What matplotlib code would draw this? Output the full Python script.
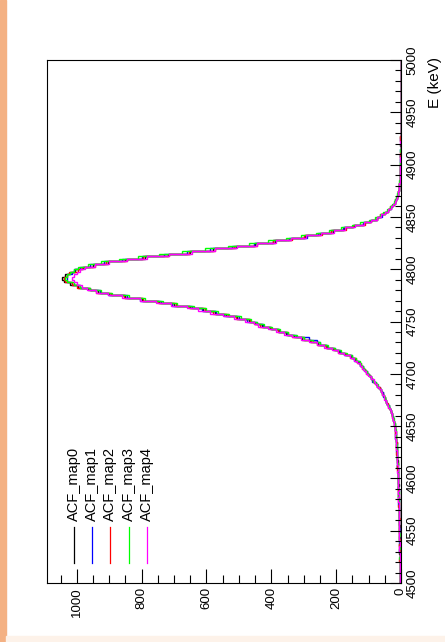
import numpy as np
import matplotlib
matplotlib.use('Agg')
import matplotlib.pyplot as plt
from matplotlib.ticker import MultipleLocator
from matplotlib.patches import Rectangle
from matplotlib.lines import Line2D

plt.rcParams['font.family'] = ['Liberation Sans', 'DejaVu Sans']

# 2.5 keV bins from 4500 to 5000 keV (200 bins)
energy_edges = np.linspace(4500, 5000, 201)

acf_map0 = [2, 3, 2, 2, 3, 4, 3, 3, 4, 3, 4, 5, 3, 4, 5, 4, 5, 4, 4, 5,
            5, 4, 6, 5, 5, 6, 7, 5, 6, 7, 7, 6, 8, 7, 7, 8, 8, 7, 9, 8,
            9, 8, 9, 10, 11, 10, 10, 12, 11, 12, 13, 12, 14, 13, 15, 16, 17, 16, 18, 19,
            20, 22, 24, 26, 28, 31, 34, 38, 42, 46, 50, 53, 57, 62, 67, 73, 80, 86, 93, 100,
            106, 112, 118, 125, 132, 142, 155, 172, 190, 210, 230, 255, 280, 305, 330, 355, 380, 405, 430, 450,
            470, 505, 540, 575, 610, 650, 700, 745, 800, 850, 900, 935, 965, 995, 1020, 1040, 1045, 1035, 1020, 1005,
            980, 950, 905, 850, 790, 720, 650, 580, 510, 450, 390, 340, 295, 250, 210, 175, 145, 115, 92, 75,
            62, 50, 40, 32, 25, 20, 16, 12, 10, 8, 7, 6, 5, 4, 4, 3, 3, 2, 2, 2,
            2, 1, 2, 2, 1, 1, 1, 2, 1, 1, 2, 1, 1, 0, 1, 1, 0, 1, 1, 1,
            1, 0, 1, 1, 0, 1, 1, 0, 1, 0, 0, 1, 0, 1, 1, 0, 1, 0, 0, 1]

acf_map1 = [3, 2, 2, 3, 4, 3, 3, 4, 2, 4, 4, 3, 5, 4, 4, 5, 3, 5, 5, 4,
            4, 6, 5, 5, 7, 6, 5, 7, 6, 6, 8, 7, 6, 8, 9, 7, 8, 9, 8, 10,
            8, 10, 9, 9, 12, 11, 11, 13, 12, 11, 14, 13, 13, 15, 14, 17, 16, 18, 19, 18,
            22, 21, 25, 25, 29, 30, 35, 37, 43, 45, 49, 54, 56, 63, 66, 74, 78, 88, 92, 98,
            104, 114, 116, 128, 130, 145, 152, 175, 188, 205, 228, 250, 260, 285, 325, 352, 375, 400, 425, 445,
            475, 500, 545, 570, 615, 645, 705, 740, 805, 845, 905, 930, 960, 990, 1015, 1030, 1030, 1030, 1015, 1010,
            990, 960, 915, 860, 800, 730, 660, 590, 520, 455, 395, 345, 290, 255, 215, 178, 148, 118, 95, 73,
            60, 50, 41, 32, 25, 20, 17, 12, 10, 8, 7, 6, 5, 4, 4, 3, 3, 2, 2, 2,
            1, 2, 1, 2, 1, 2, 1, 1, 1, 2, 0, 1, 1, 1, 0, 1, 1, 1, 0, 1,
            0, 1, 1, 0, 1, 1, 0, 1, 0, 1, 1, 0, 1, 0, 1, 1, 0, 0, 1, 0]

acf_map2 = [2, 2, 3, 4, 2, 3, 3, 4, 5, 3, 3, 4, 4, 5, 6, 3, 4, 5, 5, 6,
            6, 5, 5, 6, 4, 7, 6, 6, 7, 8, 6, 8, 7, 8, 9, 8, 8, 9, 10, 9,
            10, 9, 9, 11, 11, 10, 12, 13, 12, 14, 13, 15, 14, 13, 14, 16, 15, 19, 19, 20,
            21, 23, 24, 27, 28, 32, 33, 39, 41, 47, 50, 52, 58, 61, 66, 74, 79, 86, 94, 99,
            108, 110, 120, 124, 135, 140, 157, 170, 193, 208, 232, 258, 278, 300, 335, 350, 380, 400, 435, 455,
            465, 510, 535, 580, 605, 655, 695, 750, 795, 855, 895, 940, 960, 1000, 1015, 1035, 1040, 1030, 1025, 995,
            985, 945, 910, 845, 795, 715, 655, 575, 515, 445, 395, 335, 300, 245, 215, 170, 148, 112, 94, 74,
            64, 48, 40, 33, 26, 19, 17, 12, 10, 9, 7, 5, 6, 4, 4, 3, 2, 3, 2, 2,
            1, 1, 1, 2, 2, 1, 0, 1, 1, 2, 2, 1, 1, 1, 0, 1, 1, 0, 1, 1,
            1, 1, 0, 1, 0, 1, 1, 0, 1, 1, 0, 1, 1, 0, 1, 0, 1, 1, 0, 1]

acf_map3 = [3, 3, 2, 3, 2, 4, 4, 3, 3, 5, 4, 4, 5, 3, 3, 4, 5, 5, 4, 5,
            5, 5, 6, 5, 6, 6, 7, 7, 6, 7, 6, 7, 7, 8, 7, 7, 9, 9, 8, 8,
            9, 9, 10, 10, 9, 10, 11, 11, 12, 13, 12, 11, 13, 14, 15, 15, 16, 15, 16, 17,
            19, 21, 23, 26, 27, 30, 33, 37, 43, 45, 48, 53, 58, 61, 68, 72, 77, 85, 92, 100,
            105, 110, 117, 122, 128, 140, 150, 168, 185, 205, 225, 250, 272, 298, 322, 348, 372, 398, 422, 445,
            462, 495, 530, 565, 600, 640, 690, 735, 790, 840, 890, 925, 960, 990, 1010, 1030, 1035, 1030, 1020, 1010,
            995, 965, 925, 870, 810, 745, 675, 605, 535, 470, 410, 355, 310, 262, 222, 185, 152, 125, 100, 80,
            66, 54, 43, 35, 27, 22, 17, 14, 11, 9, 7, 7, 6, 5, 4, 4, 3, 3, 2, 2,
            2, 2, 1, 1, 1, 2, 1, 1, 1, 1, 0, 0, 1, 1, 1, 1, 0, 1, 1, 1,
            0, 0, 1, 1, 0, 1, 1, 0, 1, 1, 1, 1, 0, 0, 1, 0, 1, 1, 0, 1]

acf_map4 = [2, 2, 3, 3, 3, 2, 4, 4, 4, 4, 3, 3, 5, 5, 4, 4, 5, 6, 6, 5,
            5, 6, 6, 5, 5, 7, 7, 6, 7, 6, 6, 8, 8, 7, 8, 7, 8, 10, 9, 10,
            9, 10, 11, 10, 10, 12, 13, 11, 12, 13, 12, 14, 14, 14, 16, 17, 17, 16, 18, 18,
            21, 22, 25, 27, 29, 32, 35, 39, 43, 46, 51, 53, 58, 63, 68, 74, 79, 84, 93, 101,
            108, 114, 121, 128, 135, 146, 158, 176, 195, 212, 236, 260, 285, 310, 335, 360, 385, 410, 440, 455,
            480, 515, 550, 590, 625, 660, 710, 755, 805, 860, 905, 940, 970, 985, 1000, 1010, 1015, 1010, 1000, 990,
            975, 945, 900, 845, 785, 715, 645, 575, 505, 445, 385, 338, 292, 248, 208, 172, 142, 115, 92, 74,
            61, 50, 41, 32, 25, 20, 16, 12, 10, 8, 7, 6, 5, 4, 3, 3, 3, 2, 2, 2,
            1, 2, 2, 1, 1, 1, 1, 1, 2, 1, 1, 1, 0, 1, 1, 0, 1, 1, 1, 1,
            1, 1, 0, 1, 0, 1, 1, 0, 1, 0, 1, 1, 0, 1, 0, 1, 0, 0, 1, 1]

names = ['ACF_map0', 'ACF_map1', 'ACF_map2', 'ACF_map3', 'ACF_map4']
series = [acf_map0, acf_map1, acf_map2, acf_map3, acf_map4]
colors = ['#000000', '#0000ff', '#ff0000', '#00ff00', '#ff00ff']

W, H = 445, 642


def fx(px):
    return px / W


def fy(py):
    return 1 - py / H


fig = plt.figure(figsize=(W / 100, H / 100), dpi=100)
fig.patches.append(Rectangle((0, 0), fx(6), 1, transform=fig.transFigure,
                             color='#f4b183', zorder=0))
fig.patches.append(Rectangle((fx(6), 0), 1, 6 / H, transform=fig.transFigure,
                             color='#fdf2e9', zorder=0))

# canvas is turned on its side: energy runs up the right edge, counts run right-to-left
ax = fig.add_axes([fx(47), fy(583), fx(354), 523 / H])
for vals, c in zip(series, colors):
    ax.stairs(vals, energy_edges, orientation='horizontal', color=c, lw=1.0)

ax.set_xlim(1092, 0)
ax.set_ylim(4500, 5000)
ax.yaxis.tick_right()
ax.xaxis.set_major_locator(MultipleLocator(200))
ax.xaxis.set_minor_locator(MultipleLocator(50))
ax.yaxis.set_major_locator(MultipleLocator(50))
ax.yaxis.set_minor_locator(MultipleLocator(10))
ax.tick_params(axis='x', which='major', direction='in', length=10, width=0.8,
               labelrotation=90, labelsize=9.5, pad=3)
ax.tick_params(axis='x', which='minor', direction='in', length=5.8, width=0.8)
ax.tick_params(axis='y', which='major', direction='in', length=8, width=0.8,
               labelrotation=90, labelsize=9.5, pad=4)
ax.tick_params(axis='y', which='minor', direction='in', length=4.5, width=0.8)
plt.setp(ax.get_yticklabels(), va='center')
for s in ax.spines.values():
    s.set_linewidth(0.8)

fig.text(fx(435), fy(57), 'E (keV)', rotation=90, ha='center', va='top',
         fontsize=11)

# legend: short vertical lines with rotated labels above them
for i, (name, c) in enumerate(zip(names, colors)):
    x = 74 + 18.2 * i
    fig.add_artist(Line2D([fx(x), fx(x)], [fy(527), fy(563)],
                          transform=fig.transFigure, color=c, lw=0.9))
    fig.text(fx(x), fy(521), name, rotation=90, ha='center', va='bottom',
             fontsize=10.5)

fig.savefig('out.png', dpi=100)
